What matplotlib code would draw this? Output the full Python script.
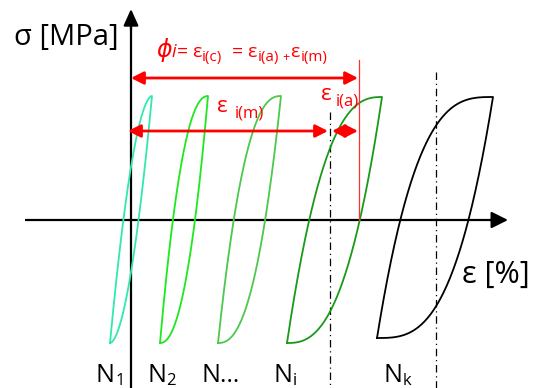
import numpy as np
import matplotlib
matplotlib.use("Agg")
import matplotlib.pyplot as plt
from matplotlib.patches import FancyArrowPatch

# ---------------- data (schematic, pixel-like units) ----------------
loop_labels = ["N", "N", "N…", "N", "N"]
loop_subs = ["1", "2", "", "i", "k"]
loop_x_left = [110, 160, 218, 287, 377]     # strain at minimum stress
loop_x_right = [152, 208, 281, 382, 493]    # strain at maximum stress
loop_y_bottom = [343, 343, 343, 343, 338]   # minimum stress
loop_y_top = [96, 96, 96, 97, 97]           # maximum stress
loop_shape = [1.8, 2.2, 2.4, 2.6, 3.0]      # loop curvature
loop_colors = ["#30e8b0", "#1ee81e", "#4cc84c", "#189a18", "#000000"]
label_x = [96, 147, 202, 273, 383]

axis_origin = (131, 220)
dashdot_x = [330, 436]
dashdot_top = [112, 72]
red_line_x = 359

FONT = ["Open Sans", "DejaVu Sans"]
RED = "#ff0000"

W, H = 547, 388
fig = plt.figure(figsize=(W / 100, H / 100), dpi=100)
ax = fig.add_axes([0, 0, 1, 1])
ax.set_xlim(0, W)
ax.set_ylim(H, 0)
ax.axis("off")
renderer = fig.canvas.get_renderer()

# ---------------- axes ----------------
ox, oy = axis_origin
ax.plot([ox, ox], [H, 20], color="black", lw=1.6, zorder=3, solid_capstyle="butt")
ax.add_patch(FancyArrowPatch((ox, 30), (ox, 9), arrowstyle="-|>,head_length=1.0,head_width=0.45",
                             mutation_scale=10, color="black", lw=1.6, shrinkA=0, shrinkB=0, zorder=3))
ax.plot([25, 500], [oy, oy], color="black", lw=1.6, zorder=3, solid_capstyle="butt")
ax.add_patch(FancyArrowPatch((490, oy), (508, oy), arrowstyle="-|>,head_length=1.0,head_width=0.5",
                             mutation_scale=10, color="black", lw=1.6, shrinkA=0, shrinkB=0, zorder=3))

# ---------------- dash-dot lines ----------------
for x, yt in zip(dashdot_x, dashdot_top):
    ax.plot([x, x], [yt, H], color="black", lw=0.9, linestyle=(0, (6, 3, 1, 3)), zorder=2)

# ---------------- loops ----------------
u = np.linspace(0, 1, 300)
for x0, x1, yb, yt, p, c in zip(loop_x_left, loop_x_right, loop_y_bottom, loop_y_top,
                                loop_shape, loop_colors):
    v = 1 - (1 - u) ** p
    xu = x0 + u * (x1 - x0)
    yu = yb - v * (yb - yt)
    xl = x1 - u * (x1 - x0)
    yl = yt + v * (yb - yt)
    ax.plot(np.concatenate([xu, xl]), np.concatenate([yu, yl]), color=c, lw=1.3, zorder=4)

# ---------------- red annotations ----------------
ax.plot([red_line_x, red_line_x], [60, oy], color="#ff3030", lw=0.9, zorder=5)

def darrow(xa, xb, y):
    ax.add_patch(FancyArrowPatch((xa, y), (xb, y), arrowstyle="<|-|>,head_length=0.75,head_width=0.38",
                                 mutation_scale=10, color=RED, lw=2.0, shrinkA=0, shrinkB=0, zorder=6))

darrow(131, 358, 78)
darrow(128, 328, 131)
darrow(332, 358, 131)

# ---------------- text ----------------
def txt(x, y, s, size, color="black", style="normal"):
    t = ax.text(x, y, s, fontsize=size, color=color, style=style, family=FONT,
                ha="left", va="baseline", zorder=7)
    bb = t.get_window_extent(renderer)
    return x + bb.width

txt(14, 45, "σ [MPa]", 21)
txt(462, 283, "ε [%]", 22)

for lx, lab, sub in zip(label_x, loop_labels, loop_subs):
    xe = txt(lx, 382, lab, 18)
    if sub:
        txt(xe + 0.5, 385, sub, 12)

# equation
M, S = 14, 11
txt(156, 57, "ϕ", 17, RED, "italic")
txt(171, 57, "i", 13, RED, "italic")
txt(177, 57, "=", M, RED)
txt(192, 57, "ε", M, RED)
txt(202, 61, "i(c)", S, RED)
txt(232, 57, "=", M, RED)
txt(247, 57, "ε", M, RED)
txt(258, 61, "i(a)", S, RED)
txt(282, 61, "+", S - 2, RED)
txt(290, 57, "ε", M, RED)
txt(301, 61, "i(m)", S, RED)

txt(217, 112, "ε", 16, RED)
txt(235, 117, "i(m)", 12, RED)
txt(321, 100, "ε", 16, RED)
txt(336, 105, "i(a)", 12, RED)

fig.savefig("out.png", dpi=100)
